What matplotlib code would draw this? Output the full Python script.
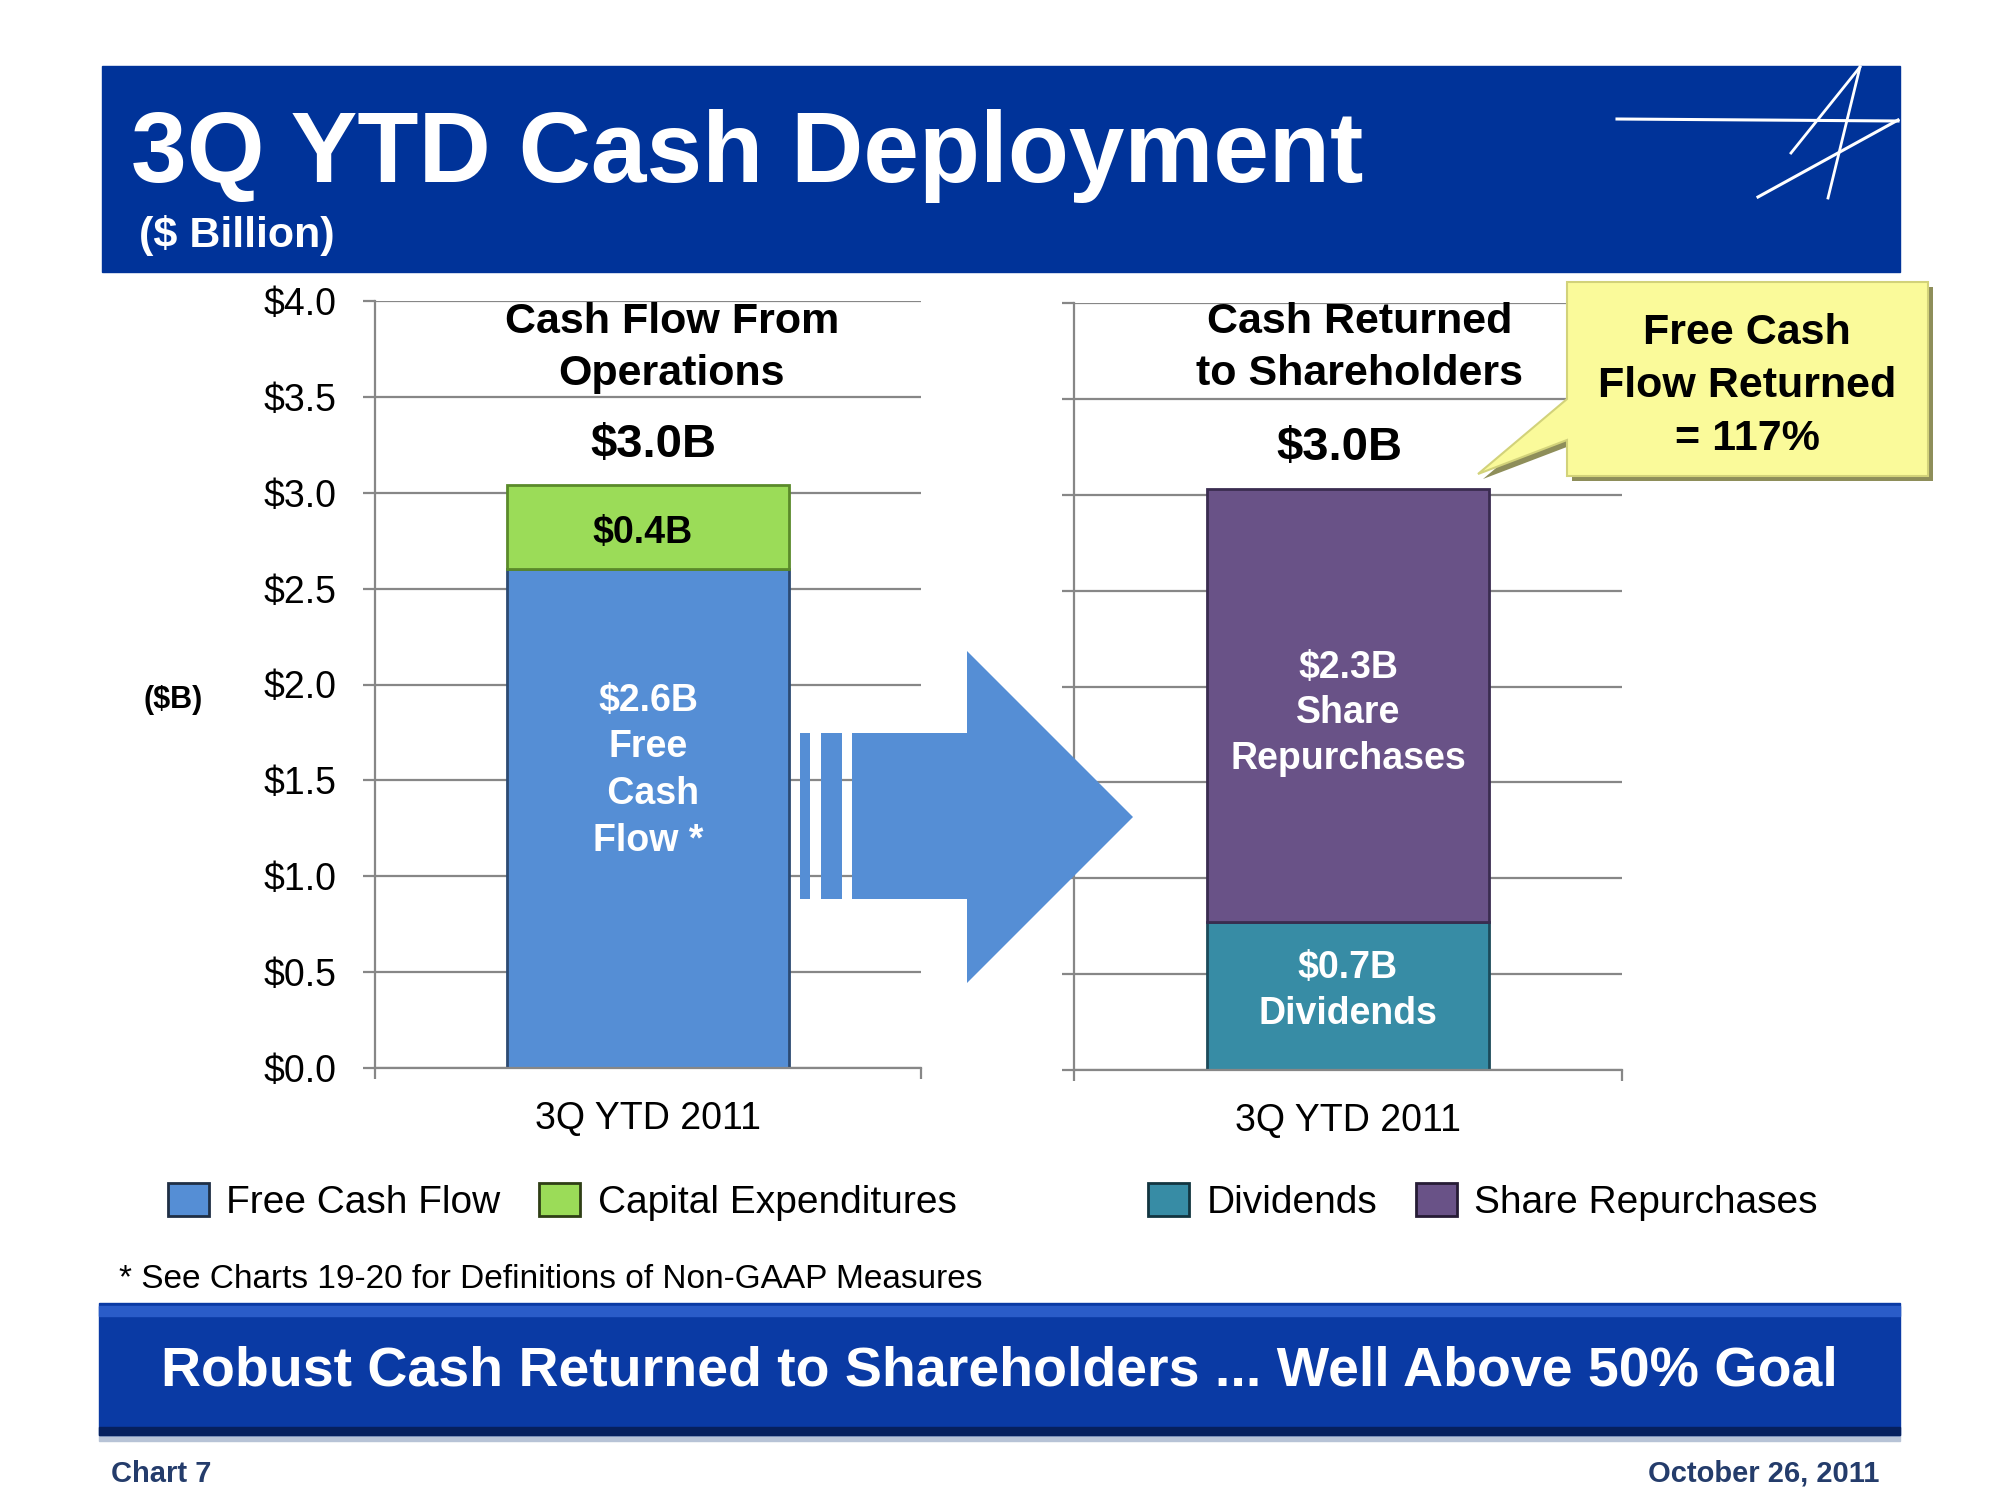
import matplotlib
matplotlib.use("Agg")
from matplotlib import pyplot as plt
from matplotlib.patches import Polygon, Rectangle, Patch
from matplotlib.lines import Line2D

plt.rcParams["font.family"] = ["Liberation Sans", "DejaVu Sans"]

# data ($ billion)
periods = ["3Q YTD 2011"]
free_cash_flow = [2.60]
capital_expenditures = [0.44]
dividends = [0.77]
share_repurchases = [2.26]

y_ticks = [0.0, 0.5, 1.0, 1.5, 2.0, 2.5, 3.0, 3.5, 4.0]
y_tick_labels = ["$0.0", "$0.5", "$1.0", "$1.5", "$2.0", "$2.5", "$3.0", "$3.5", "$4.0"]

fcf_label = "$2.6B\nFree\n Cash\nFlow *"
capex_label = "$0.4B"
div_label = "$0.7B\nDividends"
rep_label = "$2.3B\nShare\nRepurchases"

W, H = 2000, 1500
fig = plt.figure(figsize=(20, 15), dpi=100)


def fx(x):
    return x / W


def fy(y):
    return 1 - y / H


def pts(seq):
    return [(fx(x), fy(y)) for x, y in seq]


grid_col = "#878787"

# colours
c_fcf, e_fcf = "#558ED5", "#2C4A72"
c_cap, e_cap = "#9BDC58", "#5A8A2A"
c_div, e_div = "#378CA5", "#1C4A5A"
c_rep, e_rep = "#695287", "#3A2C50"


def style_axes(ax, show_labels):
    ax.set_xlim(-0.5, 0.5)
    ax.set_ylim(0, 4.0)
    for s in ["top", "right"]:
        ax.spines[s].set_visible(False)
    for s in ["left", "bottom"]:
        ax.spines[s].set_color(grid_col)
        ax.spines[s].set_linewidth(1.6)
    ax.set_yticks(y_ticks)
    if show_labels:
        ax.set_yticklabels(y_tick_labels)
    else:
        ax.set_yticklabels([])
    ax.tick_params(axis="y", direction="out", length=9, width=1.6,
                   color=grid_col, labelsize=27, pad=19)
    ax.set_xticks([0], periods)
    ax.tick_params(axis="x", which="major", length=0, labelsize=27, pad=24)
    ax.set_xticks([-0.5, 0.5], minor=True)
    ax.tick_params(axis="x", which="minor", direction="out", length=8,
                   width=1.6, color=grid_col)
    ax.yaxis.grid(True, color=grid_col, linewidth=1.6)
    ax.set_axisbelow(True)
    ax.patch.set_alpha(0)


# left panel: cash flow from operations
ax1 = fig.add_axes([fx(375), fy(1068), 546 / W, 767 / H])
style_axes(ax1, True)
ax1.bar(0, free_cash_flow[0], width=0.518, color=c_fcf, edgecolor=e_fcf,
        linewidth=2)
ax1.bar(0, capital_expenditures[0], width=0.518, bottom=free_cash_flow[0],
        color=c_cap, edgecolor=e_cap, linewidth=2)
ax1.text(0, 1.55, fcf_label, ha="center", va="center", color="white",
         fontsize=27, fontweight="bold", linespacing=1.38)
ax1.text(-0.01, free_cash_flow[0] + capital_expenditures[0] / 2 - 0.03,
         capex_label, ha="center", va="center", color="black", fontsize=27,
         fontweight="bold")

# right panel: cash returned to shareholders
ax2 = fig.add_axes([fx(1074), fy(1070), 548 / W, 767 / H])
style_axes(ax2, False)
ax2.bar(0, dividends[0], width=0.515, color=c_div, edgecolor=e_div,
        linewidth=2)
ax2.bar(0, share_repurchases[0], width=0.515, bottom=dividends[0],
        color=c_rep, edgecolor=e_rep, linewidth=2)
ax2.text(0.0, dividends[0] / 2 + 0.025, div_label, ha="center", va="center",
         color="white", fontsize=27, fontweight="bold", linespacing=1.35)
ax2.text(0.0, dividends[0] + share_repurchases[0] / 2 - 0.04, rep_label,
         ha="center", va="center", color="white", fontsize=27,
         fontweight="bold", linespacing=1.35)

# panel titles
fig.text(fx(672), fy(348), "Cash Flow From\nOperations", ha="center",
         va="center", fontsize=31, fontweight="bold", linespacing=1.38)
fig.text(fx(653), fy(445), "$3.0B", ha="center", va="center", fontsize=34,
         fontweight="bold")
fig.text(fx(1360), fy(348), "Cash Returned\nto Shareholders", ha="center",
         va="center", fontsize=31, fontweight="bold", linespacing=1.38)
fig.text(fx(1339), fy(448), "$3.0B", ha="center", va="center", fontsize=34,
         fontweight="bold")
fig.text(fx(173), fy(700), "($B)", ha="center", va="center", fontsize=22,
         fontweight="bold")

# header band
fig.add_artist(Rectangle((fx(102), fy(272)), 1798 / W, 206 / H,
                         transform=fig.transFigure, color="#003399", zorder=1))
fig.text(fx(131), fy(182), "3Q YTD Cash Deployment", ha="left",
         va="baseline", color="white", fontsize=72, fontweight="bold",
         zorder=2)
fig.text(fx(139), fy(247), "($ Billion)", ha="left", va="baseline",
         color="white", fontsize=31, fontweight="bold", zorder=2)

# logo strokes
logo = [
    ([1617, 1898], [119, 121], 2.2),
    ([1898, 1758], [120, 197], 2.2),
    ([1860, 1828], [67, 198], 2.0),
    ([1860, 1791], [67, 153], 2.0),
]
for xs, ys, lw in logo:
    fig.add_artist(Line2D([fx(v) for v in xs], [fy(v) for v in ys],
                          transform=fig.transFigure, color="white",
                          linewidth=lw, zorder=3))

# block arrow between panels
arrow_pts = [(852, 733), (967, 733), (967, 651), (1133, 817), (967, 983),
             (967, 899), (852, 899)]
fig.add_artist(Polygon(pts(arrow_pts), closed=True, transform=fig.transFigure,
                       facecolor=c_fcf, edgecolor="none", zorder=10))
for x0, x1 in [(800, 810), (821, 842)]:
    fig.add_artist(Rectangle((fx(x0), fy(899)), (x1 - x0) / W, 166 / H,
                             transform=fig.transFigure, facecolor=c_fcf,
                             edgecolor="none", zorder=10))

# callout
call_pts = [(1567, 282), (1928, 282), (1928, 476), (1567, 476), (1567, 440),
            (1478, 474), (1567, 399)]
shadow_pts = [(x + 5, y + 5) for x, y in call_pts]
fig.add_artist(Polygon(pts(shadow_pts), closed=True, transform=fig.transFigure,
                       facecolor="#8E8E5A", edgecolor="none", zorder=10))
fig.add_artist(Polygon(pts(call_pts), closed=True, transform=fig.transFigure,
                       facecolor="#FAFA9A", edgecolor="#D2D27A", linewidth=1.5,
                       zorder=11))
fig.text(fx(1747), fy(386), "Free Cash\nFlow Returned\n= 117%", ha="center",
         va="center", fontsize=31, fontweight="bold", linespacing=1.41,
         zorder=12)

# legends
left_handles = [Patch(facecolor=c_fcf, edgecolor="#1F2F45", linewidth=2,
                      label="Free Cash Flow"),
                Patch(facecolor=c_cap, edgecolor="#2F3F15", linewidth=2,
                      label="Capital Expenditures")]
right_handles = [Patch(facecolor=c_div, edgecolor="#123540", linewidth=2,
                       label="Dividends"),
                 Patch(facecolor=c_rep, edgecolor="#261C35", linewidth=2,
                       label="Share Repurchases")]
for handles, x0 in [(left_handles, 168), (right_handles, 1148)]:
    fig.legend(handles=handles, loc="center left",
               bbox_to_anchor=(fx(x0), fy(1202)), ncol=2, frameon=False,
               fontsize=28, handlelength=1.05, handleheight=0.95,
               handletextpad=0.45, columnspacing=1.0, borderpad=0,
               borderaxespad=0)

fig.text(fx(119), fy(1279), "* See Charts 19-20 for Definitions of Non-GAAP Measures",
         ha="left", va="center", fontsize=24)

# bottom banner
fig.add_artist(Rectangle((fx(99), fy(1441)), 1801 / W, 6 / H,
                         transform=fig.transFigure, color="#B7C3D6", zorder=1))
fig.add_artist(Rectangle((fx(99), fy(1435)), 1801 / W, 132 / H,
                         transform=fig.transFigure, color="#0A3AA4", zorder=1))
fig.add_artist(Rectangle((fx(99), fy(1316)), 1801 / W, 10 / H,
                         transform=fig.transFigure, color="#2A5CC8", zorder=1))
fig.add_artist(Rectangle((fx(99), fy(1435)), 1801 / W, 8 / H,
                         transform=fig.transFigure, color="#06205E", zorder=1))
fig.text(fx(999), fy(1371),
         "Robust Cash Returned to Shareholders ... Well Above 50% Goal",
         ha="center", va="center", color="white", fontsize=40,
         fontweight="bold", zorder=2)

fig.text(fx(111), fy(1474), "Chart 7", ha="left", va="center", fontsize=21,
         fontweight="bold", color="#243C6B")
fig.text(fx(1879), fy(1474), "October 26, 2011", ha="right", va="center",
         fontsize=21, fontweight="bold", color="#243C6B")

fig.savefig("out.png", dpi=100, facecolor="white")
